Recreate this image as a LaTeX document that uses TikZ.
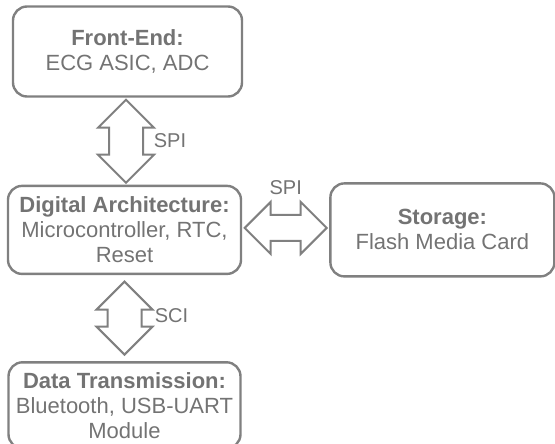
\documentclass[tikz,border=0pt]{standalone}
\usepackage{fontspec}
\setmainfont{Liberation Sans}
\usepackage{tikz}
\usetikzlibrary{shapes,arrows,positioning,calc}
\definecolor{linegray}{RGB}{128,128,128}
\definecolor{textgray}{RGB}{115,115,115}
\tikzset{
    block/.style = {rectangle, rounded corners=14pt, minimum height=90pt, text centered, align=center, draw=linegray, line width=2.4pt, text=textgray, font=\fontsize{22}{25}\selectfont},
    link/.style = {double arrow, draw=linegray, line width=2pt, double arrow tip angle=90},
    tag/.style = {text=textgray, font=\fontsize{20}{23}\selectfont}
}
\begin{document}
\begin{tikzpicture}[x=1pt, y=-1pt]
    \useasboundingbox (0,0) rectangle (555,444);

    % Nodes
    \node [block, minimum width=229pt] (front) at (127.5,51.5) {\textbf{Front-End:}\\ECG ASIC, ADC};
    \node [block, minimum width=233pt, minimum height=88pt, below=87pt of front, xshift=-3pt] (digital) {\textbf{Digital Architecture:}\\Microcontroller, RTC,\\Reset};
    \node [block, minimum width=224pt, minimum height=93pt, right=87pt of digital] (storage) {\textbf{Storage:}\\Flash Media Card};
    \node [block, minimum width=232pt, minimum height=86pt, below=86pt of digital] (data) {\textbf{Data Transmission:}\\Bluetooth, USB-UART\\Module};

    % Arrows
    \node [link, rotate=90, minimum height=83pt, inner sep=16pt, double arrow head extend=11pt] (spi1) at ($(front.south)!0.5!(digital.north)$) {};
    \node [link, minimum height=82pt, inner sep=12pt, double arrow head extend=13pt, yshift=2pt] (spi2) at ($(digital.east)!0.5!(storage.west)$) {};
    \node [link, rotate=90, minimum height=73pt, inner sep=16pt, double arrow head extend=11pt] (sci) at ($(digital.south)!0.5!(data.north)$) {};

    % Labels
    \node [tag] at ($(spi1.center)+(44,-1)$) {SPI};
    \node [tag] at ($(spi2.center)+(0,-40)$) {SPI};
    \node [tag] at ($(sci.center)+(47,-2)$) {SCI};
\end{tikzpicture}
\end{document}
